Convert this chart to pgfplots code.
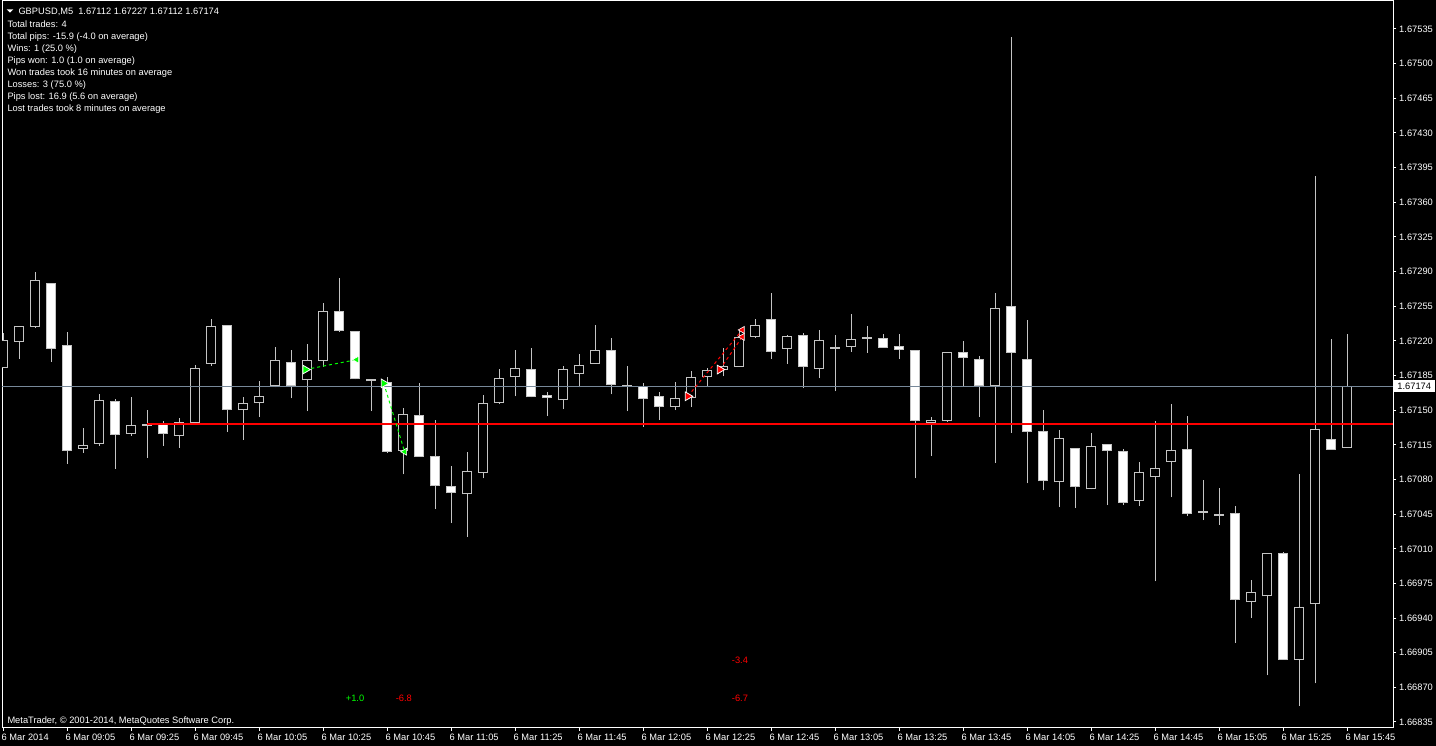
\documentclass[border=0pt]{standalone}
\usepackage{pgfplots}
\pgfplotsset{compat=1.18}
\usepackage{pgfplotstable}
\usepackage{fontspec}
\setmainfont{Liberation Sans}
\definecolor{cgrey}{RGB}{196,196,196}
\definecolor{lsg}{RGB}{119,136,153}
\definecolor{mtgreen}{RGB}{0,255,0}
\definecolor{mtred}{RGB}{255,0,0}

% GBPUSD M5 candles, prices written as (price - 1) * 100000, e.g. 67193 = 1.67193
% i = bar index (0 = 6 Mar 2014 08:45, one bar per 5 minutes)
\pgfplotstableread{
i o h l c
0 67193 67228 67193 67221
1 67219 67235 67202 67235
2 67234 67290 67233 67281
3 67278 67278 67199 67212
4 67216 67229 67096 67109
5 67111 67132 67107 67115
6 67116 67166 67114 67160
7 67159 67161 67091 67125
8 67126 67163 67124 67135
9 67136 67150 67102 67134
10 67136 67139 67114 67126
11 67124 67142 67112 67138
12 67137 67196 67137 67193
13 67197 67242 67195 67235
14 67236 67236 67128 67150
15 67150 67163 67120 67157
16 67157 67179 67143 67164
17 67174 67214 67173 67201
18 67199 67211 67162 67174
19 67180 67217 67149 67201
20 67200 67258 67194 67250
21 67250 67283 67229 67230
22 67230 67230 67181 67181
23 67181 67181 67149 67179
24 67178 67183 67107 67108
25 67109 67152 67085 67146
26 67145 67177 67103 67103
27 67104 67140 67050 67073
28 67073 67094 67036 67066
29 67065 67108 67022 67089
30 67087 67165 67081 67157
31 67157 67192 67156 67182
32 67183 67211 67164 67193
33 67192 67213 67163 67163
34 67165 67168 67144 67162
35 67160 67195 67151 67192
36 67187 67207 67173 67196
37 67197 67236 67197 67211
38 67211 67223 67166 67175
39 67175 67195 67149 67174
40 67174 67177 67133 67161
41 67164 67168 67140 67153
42 67153 67178 67150 67162
43 67162 67190 67153 67183
44 67183 67193 67174 67191
45 67191 67213 67184 67195
46 67194 67232 67194 67224
47 67224 67242 67223 67236
48 67242 67268 67202 67209
49 67212 67226 67197 67225
50 67226 67228 67172 67194
51 67192 67231 67182 67221
52 67212 67226 67169 67214
53 67214 67247 67209 67222
54 67222 67235 67208 67224
55 67223 67227 67213 67213
56 67215 67227 67202 67211
57 67211 67211 67081 67139
58 67137 67143 67104 67140
59 67139 67209 67138 67209
60 67209 67220 67174 67203
61 67202 67205 67143 67174
62 67174 67268 67097 67253
63 67255 67527 67127 67208
64 67202 67241 67076 67128
65 67129 67150 67069 67078
66 67077 67130 67052 67122
67 67112 67112 67051 67072
68 67070 67127 67070 67114
69 67116 67116 67054 67109
70 67109 67111 67054 67056
71 67058 67098 67053 67088
72 67082 67139 66977 67092
73 67098 67156 67062 67110
74 67111 67144 67043 67045
75 67048 67079 67039 67046
76 67045 67071 67034 67043
77 67046 67053 66915 66958
78 66956 66978 66940 66966
79 66962 67006 66882 67006
80 67006 67007 66898 66898
81 66898 67086 66851 66951
82 66954 67387 66874 67131
83 67121 67222 67110 67110
84 67112 67227 67112 67174
}\candles

\begin{document}
\begin{tikzpicture}[x=1pt,y=1pt,font=\fontsize{9.3}{11}\selectfont]
\fill[black] (-2,-18) rectangle (1434,728);
\begin{axis}[
  at={(0,0)}, anchor=south west, scale only axis,
  width=1391pt, height=727pt,
  xmin=-0.0625, xmax=86.875,
  ymin=66828.94, ymax=67563.28,
  clip mode=individual,
  axis line style={white, line width=1pt},
  xtick={0,4,8,12,16,20,24,28,32,36,40,44,48,52,56,60,64,68,72,76,80,84},
  xticklabels={6 Mar 2014, 6 Mar 09:05, 6 Mar 09:25, 6 Mar 09:45, 6 Mar 10:05, 6 Mar 10:25, 6 Mar 10:45, 6 Mar 11:05, 6 Mar 11:25, 6 Mar 11:45, 6 Mar 12:05, 6 Mar 12:25, 6 Mar 12:45, 6 Mar 13:05, 6 Mar 13:25, 6 Mar 13:45, 6 Mar 14:05, 6 Mar 14:25, 6 Mar 14:45, 6 Mar 15:05, 6 Mar 15:25, 6 Mar 15:45},
  ytick={66835,66870,66905,66940,66975,67010,67045,67080,67115,67150,67185,67220,67255,67290,67325,67360,67395,67430,67465,67500,67535},
  yticklabels={1.66835,1.66870,1.66905,1.66940,1.66975,1.67010,1.67045,1.67080,1.67115,1.67150,1.67185,1.67220,1.67255,1.67290,1.67325,1.67360,1.67395,1.67430,1.67465,1.67500,1.67535},
  xtick pos=left, xticklabel pos=left,
  ytick pos=right, yticklabel pos=right,
  tick align=outside, major tick length=3pt,
  tick style={white, line width=1pt},
  tick label style={text=white, font=\fontsize{9.3}{11}\selectfont},
  xticklabel style={anchor=base west, inner sep=0pt, xshift=-1.5pt, yshift=-10pt},
  yticklabel style={anchor=base west, inner sep=0pt, xshift=3pt, yshift=-3.3pt},
]
% wicks
\addplot[draw=none, mark=none, forget plot, error bars/.cd, y dir=plus, y explicit, error mark=none,
  error bar style={draw=cgrey, line width=1pt}]
  table[x=i, y=l, y error plus expr=\thisrow{h}-\thisrow{l}] {\candles};
% bullish bodies (hollow)
\addplot[draw=none, mark=none, forget plot, error bars/.cd, y dir=plus, y explicit, error mark=none,
  error bar style={draw=cgrey, line width=10pt}]
  table[x=i, y=o, y error plus expr={max(\thisrow{c}-\thisrow{o},0)}] {\candles};
\addplot[draw=none, mark=none, forget plot, error bars/.cd, y dir=plus, y explicit, error mark=none,
  error bar style={draw=black, line width=8pt}]
  table[x=i, y expr=\thisrow{o}+1, y error plus expr={max(\thisrow{c}-\thisrow{o}-2,0)}] {\candles};
% bearish bodies (white)
\addplot[draw=none, mark=none, forget plot, error bars/.cd, y dir=plus, y explicit, error mark=none,
  error bar style={draw=cgrey, line width=10pt}]
  table[x=i, y=c, y error plus expr={max(\thisrow{o}-\thisrow{c},0)}] {\candles};
\addplot[draw=none, mark=none, forget plot, error bars/.cd, y dir=plus, y explicit, error mark=none,
  error bar style={draw=white, line width=8pt}]
  table[x=i, y expr=\thisrow{c}+1, y error plus expr={max(\thisrow{o}-\thisrow{c}-2,0)}] {\candles};
% bid line and horizontal level
\addplot[lsg, line width=1pt, forget plot] coordinates {(-0.0625,67174) (86.875,67174)};
\addplot[mtred, line width=2.5pt, forget plot] coordinates {(9,67136) (86.875,67136)};
% trades
\addplot[mtgreen, line width=1pt, dash pattern=on 3pt off 3pt, forget plot] coordinates {(18.9,67191) (22.1,67201)};
\addplot[mtgreen, line width=1pt, dash pattern=on 3pt off 3pt, forget plot] coordinates {(23.8,67177) (25.1,67108)};
\addplot[mtred, line width=1pt, dash pattern=on 3pt off 3pt, forget plot] coordinates {(42.8,67164) (46.2,67231)};
\addplot[mtred, line width=1pt, dash pattern=on 3pt off 3pt, forget plot] coordinates {(44.8,67191) (46.2,67224)};
\addplot[only marks, mark=triangle*, mark size=5pt, mark options={rotate=-90, fill=mtgreen, draw=white, line width=0.8pt}, forget plot]
  coordinates {(18.9,67191) (23.8,67177)};
\addplot[only marks, mark=triangle*, mark size=4pt, mark options={rotate=90, fill=mtgreen, draw=white, line width=0.6pt}, forget plot]
  coordinates {(22.1,67201) (25.1,67108)};
\addplot[only marks, mark=triangle*, mark size=5pt, mark options={rotate=-90, fill=mtred, draw=white, line width=0.8pt}, forget plot]
  coordinates {(42.8,67164) (44.8,67191)};
\addplot[only marks, mark=triangle*, mark size=4pt, mark options={rotate=90, fill=mtred, draw=white, line width=0.6pt}, forget plot]
  coordinates {(46.2,67231) (46.2,67224)};
% trade results
\node[text=mtgreen, inner sep=0pt] at (axis cs:22,66859) {+1.0};
\node[text=mtred, inner sep=0pt] at (axis cs:25.05,66859) {-6.8};
\node[text=mtred, inner sep=0pt] at (axis cs:46.06,66897) {-3.4};
\node[text=mtred, inner sep=0pt] at (axis cs:46.06,66859) {-6.7};
% current price label
\node[fill=white, text=black, anchor=west, inner sep=0pt, minimum width=42pt, minimum height=12pt] at (axis cs:86.875,67174) {1.67174};
\end{axis}
% info panel
\fill[white] (4.7,718.7) -- (11.3,718.7) -- (8,715.3) -- cycle;
\node[anchor=base west, inner sep=0pt, text=white] at (16.3,713.7) {GBPUSD,M5\hspace{5pt}1.67112 1.67227 1.67112 1.67174};
\node[anchor=base west, inner sep=0pt, text=white] at (5.3,700.7) {Total trades: 4};
\node[anchor=base west, inner sep=0pt, text=white] at (5.3,688.7) {Total pips: -15.9 (-4.0 on average)};
\node[anchor=base west, inner sep=0pt, text=white] at (5.3,676.7) {Wins: 1 (25.0 \%)};
\node[anchor=base west, inner sep=0pt, text=white] at (5.3,664.7) {Pips won: 1.0 (1.0 on average)};
\node[anchor=base west, inner sep=0pt, text=white] at (5.3,652.7) {Won trades took 16 minutes on average};
\node[anchor=base west, inner sep=0pt, text=white] at (5.3,640.7) {Losses: 3 (75.0 \%)};
\node[anchor=base west, inner sep=0pt, text=white] at (5.3,628.7) {Pips lost: 16.9 (5.6 on average)};
\node[anchor=base west, inner sep=0pt, text=white] at (5.3,616.7) {Lost trades took 8 minutes on average};
\node[anchor=base west, inner sep=0pt, text=white] at (5.3,4) {MetaTrader, \copyright{} 2001-2014, MetaQuotes Software Corp.};
\pgfresetboundingbox
\useasboundingbox (-2,-18) rectangle (1434,728);
\end{tikzpicture}
\end{document}
